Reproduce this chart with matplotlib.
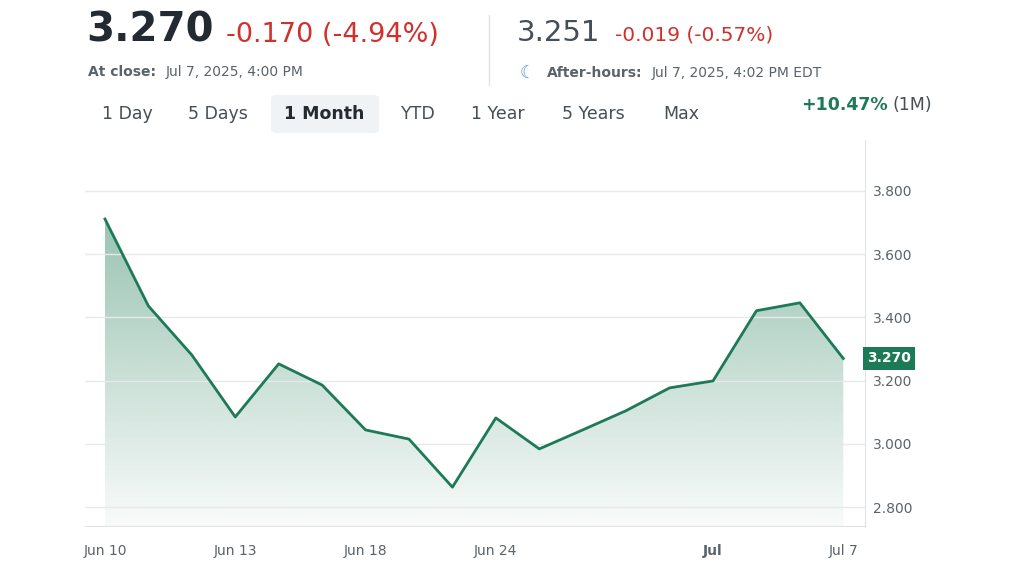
import matplotlib.pyplot as plt
import numpy as np
from matplotlib.patches import FancyBboxPatch

prices = [3.711, 3.436, 3.281, 3.085, 3.253, 3.186, 3.044, 3.015, 2.863,
          3.082, 2.984, 3.044, 3.105, 3.177, 3.199, 3.421, 3.446, 3.270]
tick_idx = [0, 3, 6, 9, 14, 17]
tick_labels = ["Jun 10", "Jun 13", "Jun 18", "Jun 24", "Jul", "Jul 7"]
y_ticks = [2.8, 3.0, 3.2, 3.4, 3.6, 3.8]
ranges = ["1 Day", "5 Days", "1 Month", "YTD", "1 Year", "5 Years", "Max"]
range_x = [127, 218, 324, 418, 498, 593, 681]

green = "#1d7a56"
red = "#d0312d"
dark = "#232a31"
grey = "#5b636a"

fig = plt.figure(figsize=(10.24, 5.76), dpi=100)
W, H = 1024, 576

def ft(x, y, s, **kw):
    fig.text(x / W, 1 - y / H, s, **kw)

ft(86, 30, "3.270", fontsize=29, fontweight="bold", color=dark, va="center")
ft(226, 35, "-0.170 (-4.94%)", fontsize=19.5, color=red, va="center")
ft(88, 72, "At close:", fontsize=10, fontweight="bold", color=grey, va="center")
ft(166, 72, "Jul 7, 2025, 4:00 PM", fontsize=10, color=grey, va="center")
fig.add_artist(plt.Line2D([489 / W, 489 / W], [1 - 15 / H, 1 - 85 / H], color="#e0e4e9", lw=1))
ft(517, 33, "3.251", fontsize=21, color="#464e56", va="center")
ft(615, 35, "-0.019 (-0.57%)", fontsize=14.5, color=red, va="center")
ft(520, 73, "\u263E", fontsize=12, color="#4a8cd6", va="center")
ft(547, 73, "After-hours:", fontsize=10, fontweight="bold", color=grey, va="center")
ft(652, 73, "Jul 7, 2025, 4:02 PM EDT", fontsize=10, color=grey, va="center")

fig.add_artist(FancyBboxPatch((271 / W, 1 - 133 / H), 108 / W, 38 / H,
                              boxstyle="round,pad=0,rounding_size=0.006",
                              fc="#f0f3f5", ec="none", transform=fig.transFigure))
for lab, x in zip(ranges, range_x):
    ft(x, 114, lab, fontsize=12.5, color=dark if lab == "1 Month" else "#464e56",
       fontweight="bold" if lab == "1 Month" else "normal", ha="center", va="center")
ft(888, 105, "+10.47%", fontsize=12.5, color=green, fontweight="bold", ha="right", va="center")
ft(893, 105, "(1M)", fontsize=12.5, color="#464e56", va="center")

ax = fig.add_axes([85 / W, 1 - 527 / H, 780 / W, 387 / H])
x = np.arange(len(prices))
ax.plot(x, prices, color=green, lw=2, zorder=3)
# gradient fill under the line
img = np.zeros((256, 1, 4))
img[..., 0], img[..., 1], img[..., 2] = 0x1d / 255, 0x7a / 255, 0x56 / 255
img[..., 3] = np.linspace(0.45, 0.03, 256).reshape(-1, 1)
im = ax.imshow(img, extent=[0, len(prices) - 1, 2.737, max(prices)], aspect="auto", zorder=1)
poly = ax.fill_between(x, prices, 2.737, color="none")
im.set_clip_path(poly.get_paths()[0], transform=ax.transData)

ax.set_xlim(-0.46, 17.5)
ax.set_ylim(2.737, 3.961)
ax.set_yticks(y_ticks)
ax.set_yticklabels([f"{v:.3f}" for v in y_ticks])
ax.yaxis.tick_right()
ax.tick_params(axis="y", length=0, labelsize=10, colors=grey, pad=6)
ax.set_xticks(tick_idx)
ax.set_xticklabels(tick_labels)
for t in ax.get_xticklabels():
    if t.get_text() == "Jul":
        t.set_fontweight("bold")
        t.set_color(dark)
ax.tick_params(axis="x", length=0, labelsize=10, colors=grey, pad=12)
ax.grid(axis="y", color="#e6e9ec", lw=1)
for s in ["top", "left", "bottom"]:
    ax.spines[s].set_visible(False)
ax.spines["right"].set_color("#e0e4e9")
ax.axhline(2.737, color="#e0e4e9", lw=1.5)
ax.text(17.55, prices[-1], f"{prices[-1]:.3f}", transform=ax.transData, fontsize=10,
        color="white", fontweight="bold", va="center", ha="left",
        bbox=dict(boxstyle="square,pad=0.3", fc=green, ec="none"))

fig.savefig("out.png", dpi=100)
